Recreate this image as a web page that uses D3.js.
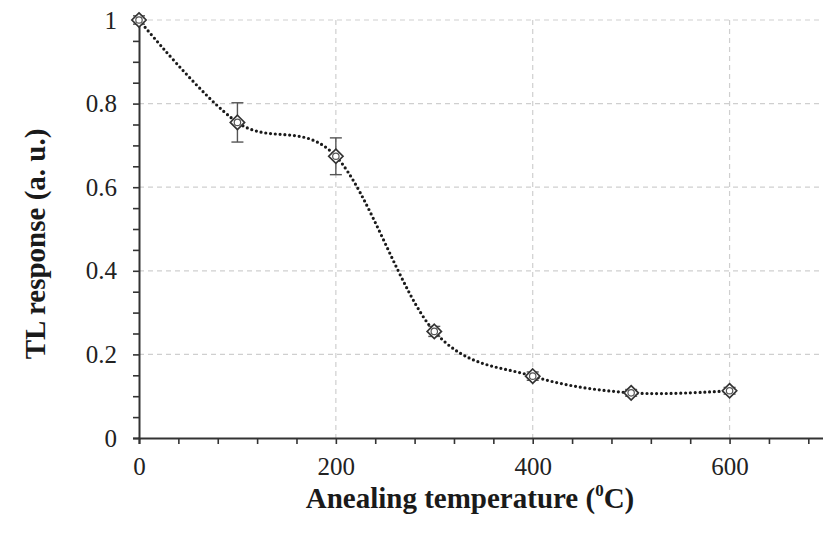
<!DOCTYPE html>
<html><head><meta charset="utf-8">
<script src="https://cdn.jsdelivr.net/npm/d3@7"></script>
<style>body{margin:0;background:#fff}svg{display:block}</style>
</head><body>
<svg id="c" width="823" height="534"></svg>
<script>
const temps = [0, 100, 200, 300, 400, 500, 600];
const response = [1.0, 0.755, 0.674, 0.255, 0.148, 0.108, 0.113];
const errors = [0.01, 0.047, 0.044, 0.012, 0.01, 0.008, 0.008];
const xTicks = [0, 200, 400, 600];
const yTicks = [0, 0.2, 0.4, 0.6, 0.8, 1];

const svg = d3.select("#c");
const x = d3.scaleLinear().domain([0, 700]).range([139, 828]);
const y = d3.scaleLinear().domain([0, 1]).range([438, 20]);
const font = "'Liberation Serif','Times New Roman',serif";

// grid
const grid = svg.append("g").attr("stroke", "#cfcfcf").attr("stroke-width", 1.2).attr("stroke-dasharray", "5,4");
grid.selectAll("line.h").data(yTicks.filter(d => d > 0)).join("line")
  .attr("x1", x(0)).attr("x2", 823).attr("y1", d => y(d)).attr("y2", d => y(d));
grid.selectAll("line.v").data(xTicks.filter(d => d > 0)).join("line")
  .attr("x1", d => x(d)).attr("x2", d => x(d)).attr("y1", y(1)).attr("y2", y(0));

// axes
const xAxis = svg.append("g").attr("transform", `translate(0,${y(0)})`)
  .call(d3.axisBottom(x).tickValues(d3.range(0, 701, 40)).tickSize(6).tickFormat(""));
xAxis.select(".domain").attr("stroke", "#333").attr("stroke-width", 2);
xAxis.selectAll(".tick line").attr("stroke", "#333").attr("stroke-width", 1.6);

const xLab = svg.append("g").attr("transform", `translate(0,${y(0)})`)
  .call(d3.axisBottom(x).tickValues(xTicks).tickSize(0).tickPadding(19).tickFormat(d3.format("d")));
xLab.select(".domain").remove();
xLab.selectAll("text").attr("font-family", font).attr("font-size", 25).attr("fill", "#222");

const yAxis = svg.append("g").attr("transform", `translate(${x(0)},0)`)
  .call(d3.axisLeft(y).tickValues(d3.range(0, 1.001, 0.05)).tickSize(6).tickFormat(""));
yAxis.select(".domain").attr("stroke", "#333").attr("stroke-width", 2);
yAxis.selectAll(".tick line").attr("stroke", "#333").attr("stroke-width", 1.6);

const yLab = svg.append("g").attr("transform", `translate(${x(0)},0)`)
  .call(d3.axisLeft(y).tickValues(yTicks).tickSize(0).tickPadding(22).tickFormat(d => d === 0 || d === 1 ? d3.format("d")(d) : d3.format(".1f")(d)));
yLab.select(".domain").remove();
yLab.selectAll("text").attr("font-family", font).attr("font-size", 25).attr("fill", "#222");

// curve
const line = d3.line().x((d, i) => x(temps[i])).y(d => y(d)).curve(d3.curveCatmullRom.alpha(0));
svg.append("path").datum(response).attr("d", line).attr("fill", "none")
  .attr("stroke", "#1a1a1a").attr("stroke-width", 3.2).attr("stroke-dasharray", "0,4.8").attr("stroke-linecap", "round");

// error bars
const eb = svg.append("g").attr("stroke", "#555").attr("stroke-width", 1.4);
temps.forEach((t, i) => {
  const g = eb.append("g");
  g.append("line").attr("x1", x(t)).attr("x2", x(t)).attr("y1", y(response[i] - errors[i])).attr("y2", y(response[i] + errors[i]));
  [response[i] - errors[i], response[i] + errors[i]].forEach(v =>
    g.append("line").attr("x1", x(t) - 6).attr("x2", x(t) + 6).attr("y1", y(v)).attr("y2", y(v)));
});

// markers
const mk = svg.append("g");
temps.forEach((t, i) => {
  mk.append("path").attr("d", d3.symbol(d3.symbolDiamond2, 130)())
    .attr("transform", `translate(${x(t)},${y(response[i])})`)
    .attr("fill", "#fff").attr("stroke", "#333").attr("stroke-width", 1.7);
  mk.append("circle").attr("cx", x(t)).attr("cy", y(response[i])).attr("r", 3.2)
    .attr("fill", "none").attr("stroke", "#555").attr("stroke-width", 1.2);
});

// titles
const xt = svg.append("text").attr("x", 470).attr("y", 508).attr("text-anchor", "middle")
  .attr("font-family", font).attr("font-size", 29).attr("font-weight", "bold").attr("fill", "#1a1a1a");
xt.append("tspan").text("Anealing temperature (");
xt.append("tspan").attr("font-size", 17).attr("dy", -12).text("0");
xt.append("tspan").attr("dy", 12).text("C)");

svg.append("text").attr("transform", "translate(45,244) rotate(-90)").attr("text-anchor", "middle")
  .attr("font-family", font).attr("font-size", 29).attr("font-weight", "bold").attr("fill", "#1a1a1a")
  .text("TL response (a. u.)");
</script>
</body></html>
